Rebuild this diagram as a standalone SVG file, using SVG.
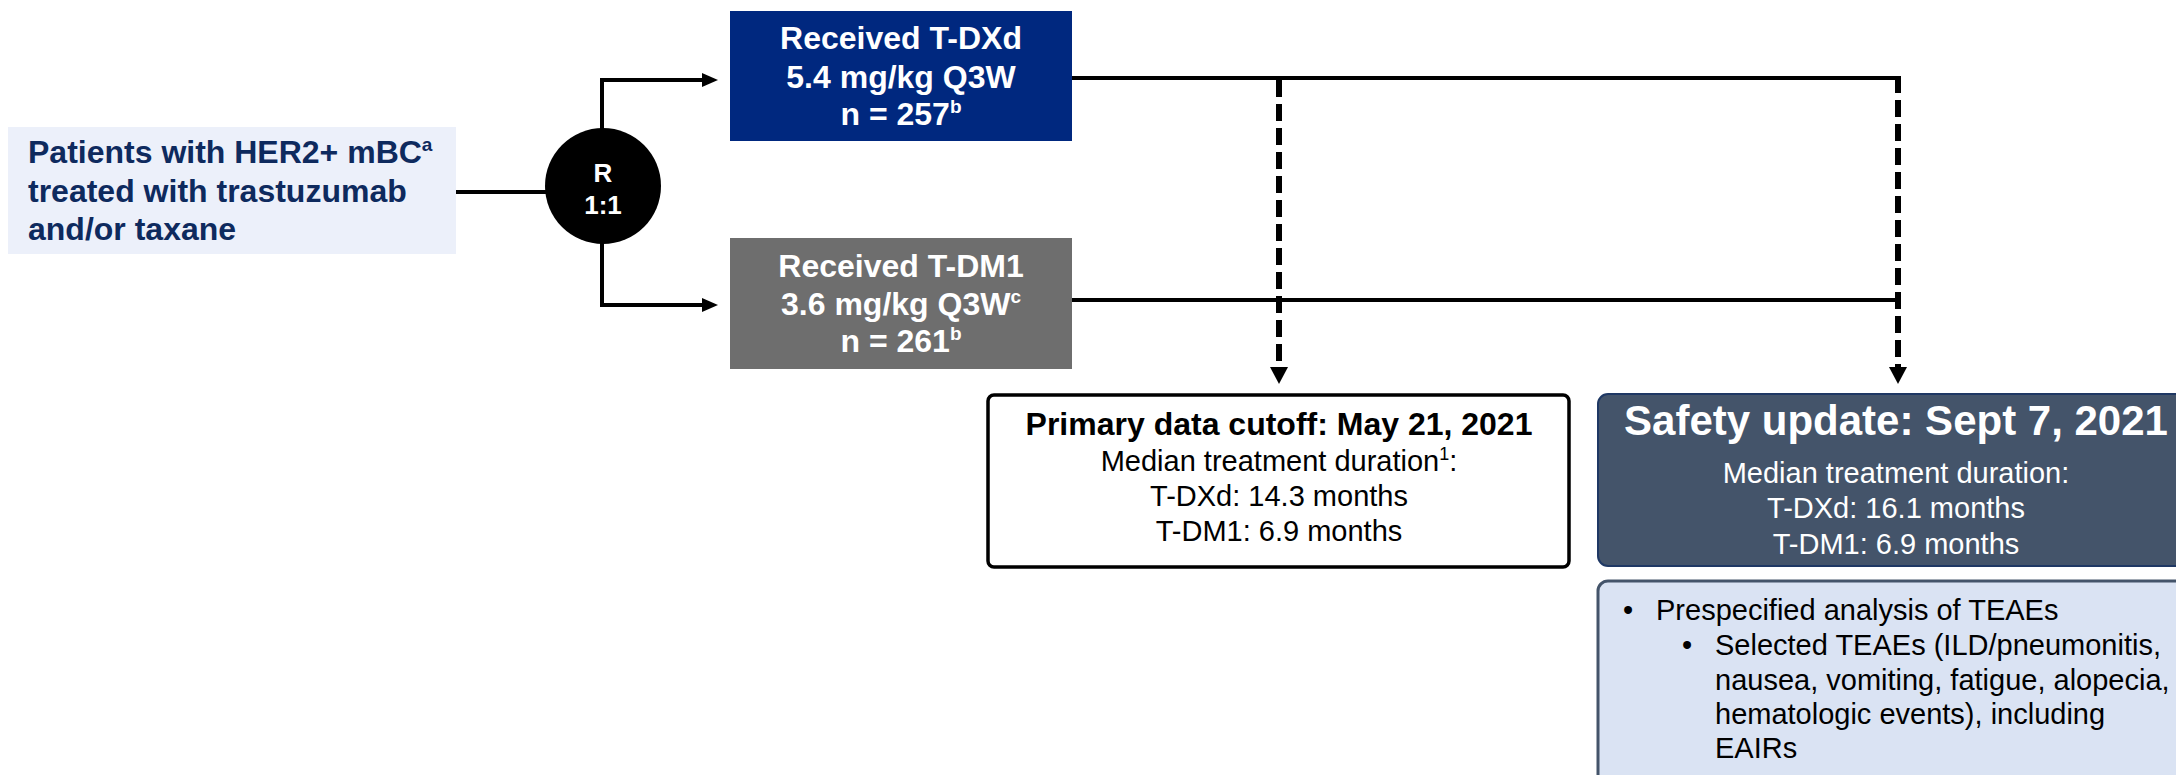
<svg xmlns="http://www.w3.org/2000/svg" width="2176" height="775" viewBox="0 0 2176 775">
  <style>
    text { font-family: "Liberation Sans", Arial, sans-serif; }
    .b { font-weight: bold; }
    .w { fill: #ffffff; }
    .k { fill: #000000; }
    .nv { fill: #0E2A5E; }
    .c { text-anchor: middle; }
    .r29 { font-size: 29px; }
    .b32 { font-size: 32px; font-weight: bold; }
    .line { stroke: #000; stroke-width: 4; fill: none; }
    .dash { stroke: #000; stroke-width: 6; fill: none; stroke-dasharray: 17 7; }
  </style>
  <defs>
    <marker id="arr" markerUnits="userSpaceOnUse" markerWidth="16" markerHeight="14" refX="0" refY="7" orient="auto">
      <path d="M0,0 L16,7 L0,14 z" fill="#000"/>
    </marker>
    <marker id="arrD" markerUnits="userSpaceOnUse" markerWidth="17" markerHeight="18" refX="0" refY="9" orient="auto">
      <path d="M0,0 L17,9 L0,18 z" fill="#000"/>
    </marker>
  </defs>

  <g id="connectors">
    <line class="line" x1="456" y1="192" x2="546" y2="192"/>
    <polyline class="line" points="602,129 602,80 702,80" marker-end="url(#arr)"/>
    <polyline class="line" points="602,243 602,305 702,305" marker-end="url(#arr)"/>
    <line class="line" x1="1072" y1="78" x2="1900" y2="78"/>
    <line class="line" x1="1072" y1="300" x2="1898" y2="300"/>
    <line class="dash" x1="1279" y1="80" x2="1279" y2="367" marker-end="url(#arrD)"/>
    <line class="dash" x1="1898" y1="76" x2="1898" y2="367" marker-end="url(#arrD)"/>
  </g>

  <g id="patients">
    <rect x="8" y="127" width="448" height="127" fill="#ECF0FA"/>
    <text class="b32 nv" x="28" y="163">Patients with HER2+ mBC<tspan font-size="19" dy="-12">a</tspan></text>
    <text class="b32 nv" x="28" y="202">treated with trastuzumab</text>
    <text class="b32 nv" x="28" y="240">and/or taxane</text>
  </g>

  <g id="randomize">
    <circle cx="603" cy="186" r="58" fill="#000"/>
    <text class="b w c" font-size="26" x="603" y="182">R</text>
    <text class="b w c" font-size="26" x="603" y="214">1:1</text>
  </g>

  <g id="tdxd">
    <rect x="730" y="11" width="342" height="130" fill="#00287F"/>
    <text class="b32 w c" x="901" y="49">Received T-DXd</text>
    <text class="b32 w c" x="901" y="88">5.4 mg/kg Q3W</text>
    <text class="b32 w c" x="901" y="125">n = 257<tspan font-size="19" dy="-12">b</tspan></text>
  </g>

  <g id="tdm1">
    <rect x="730" y="238" width="342" height="131" fill="#6E6E6E"/>
    <text class="b32 w c" x="901" y="277">Received T-DM1</text>
    <text class="b32 w c" x="901" y="315">3.6 mg/kg Q3W<tspan font-size="19" dy="-12">c</tspan></text>
    <text class="b32 w c" x="901" y="352">n = 261<tspan font-size="19" dy="-12">b</tspan></text>
  </g>

  <g id="primary">
    <rect x="988" y="395" width="581" height="172" rx="6" fill="#fff" stroke="#000" stroke-width="3.5"/>
    <text class="b32 k c" x="1279" y="435">Primary data cutoff: May 21, 2021</text>
    <text class="r29 k c" x="1279" y="471">Median treatment duration<tspan font-size="18" dy="-11">1</tspan><tspan dy="11">:</tspan></text>
    <text class="r29 k c" x="1279" y="506">T-DXd: 14.3 months</text>
    <text class="r29 k c" x="1279" y="541">T-DM1: 6.9 months</text>
  </g>

  <g id="safety">
    <rect x="1598" y="394" width="600" height="172" rx="10" fill="#44546A" stroke="#1F3864" stroke-width="2"/>
    <text class="b w c" font-size="42" x="1896" y="435">Safety update: Sept 7, 2021</text>
    <text class="r29 w c" x="1896" y="483">Median treatment duration:</text>
    <text class="r29 w c" x="1896" y="518">T-DXd: 16.1 months</text>
    <text class="r29 w c" x="1896" y="554">T-DM1: 6.9 months</text>
  </g>

  <g id="teaes">
    <rect x="1598" y="581" width="600" height="220" rx="10" fill="#DAE3F3" stroke="#44546A" stroke-width="3"/>
    <text class="r29 k" x="1623" y="620">•</text>
    <text class="r29 k" x="1656" y="620">Prespecified analysis of TEAEs</text>
    <text class="r29 k" x="1682" y="655">•</text>
    <text class="r29 k" x="1715" y="655">Selected TEAEs (ILD/pneumonitis,</text>
    <text class="r29 k" x="1715" y="690">nausea, vomiting, fatigue, alopecia,</text>
    <text class="r29 k" x="1715" y="724">hematologic events), including</text>
    <text class="r29 k" x="1715" y="758">EAIRs</text>
  </g>
</svg>
